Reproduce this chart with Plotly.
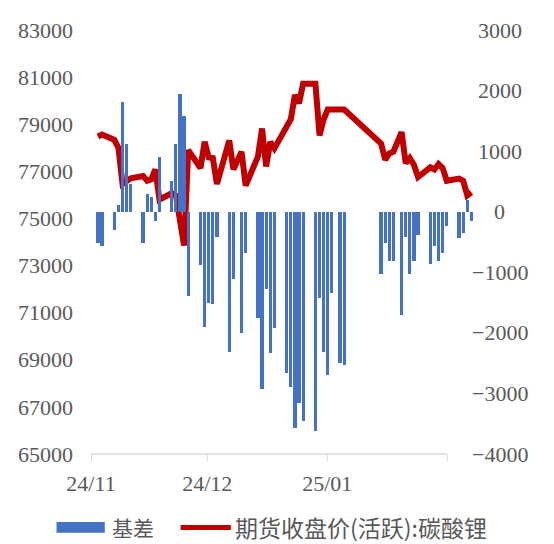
import plotly.graph_objects as go

# ---------------- data ----------------
dates = [
    "2024-11-28", "2024-11-29",
    "2024-12-02", "2024-12-03", "2024-12-04", "2024-12-05", "2024-12-06",
    "2024-12-09", "2024-12-10", "2024-12-11", "2024-12-12", "2024-12-13",
    "2024-12-16", "2024-12-17", "2024-12-18", "2024-12-19", "2024-12-20",
    "2024-12-23", "2024-12-24", "2024-12-25", "2024-12-26", "2024-12-27",
    "2024-12-30", "2024-12-31", "2025-01-02", "2025-01-03",
    "2025-01-06", "2025-01-07", "2025-01-08", "2025-01-09", "2025-01-10",
    "2025-01-13", "2025-01-14", "2025-01-15", "2025-01-16", "2025-01-17",
    "2025-01-20", "2025-01-21", "2025-01-22", "2025-01-23", "2025-01-24",
    "2025-01-26", "2025-01-27",
    "2025-02-05", "2025-02-06", "2025-02-07", "2025-02-08",
    "2025-02-10", "2025-02-11", "2025-02-12", "2025-02-13", "2025-02-14",
    "2025-02-17", "2025-02-18", "2025-02-19", "2025-02-20", "2025-02-21",
    "2025-02-24", "2025-02-25", "2025-02-26", "2025-02-27",
]

basis = [
    -510, -560,
    -300, 110, 1810, 1110, 450,
    -510, 300, 250, -160, 910,
    510, 1110, 1940, 1580, -1390,
    -880, -1910, -1510, -1520, -410,
    -2320, -1110, -2000, -680,
    -1760, -2920, -1280, -2340, -1920,
    -2660, -2900, -3570, -3160, -3450,
    -3620, -1430, -2310, -2690, -1350,
    -2500, -2530,
    -1030, -510, -810, -810,
    -1710, -410, -1020, -810, -390,
    -870, -570, -810, -680, -230,
    -430, -350, 200, -150,
]

price = [
    78480, 78560,
    78340, 78000, 76460, 76600, 76700,
    76800, 76600, 76660, 77080, 75800,
    76070, 75980, 74950, 73850, 77900,
    77140, 78260, 77590, 77560, 76460,
    78310, 77080, 77830, 76390,
    77630, 78820, 77210, 78250, 77970,
    78900, 79210, 80240, 79890, 80720,
    80720, 78520, 79210, 79620, 79620,
    79650, 79620,
    78180, 77490, 77760, 77830,
    78660, 77350, 77560, 77280, 76760,
    77170, 77080, 77310, 77140, 76600,
    76690, 76600, 75980, 76110,
]

tick_dates = ["2024-11-26 07:40", "2024-12-24 15:10", "2025-01-22 21:30", "2025-02-21 04:00"]
tick_text = ["24/11", "24/12", "25/01", ""]
x_range = ["2024-11-26 07:40", "2025-02-28 03:00"]

right_ticks = [-4000, -3000, -2000, -1000, 0, 1000, 2000, 3000]

bar_name = "基差"
line_name = "期货收盘价(活跃):碳酸锂"

# ---------------- style ----------------
OFF = 8                      # default page margin around the figure
W, H = 554 - OFF, 544 - OFF
L, R, T, B = 85 - OFF, 78, 18 - OFF, 90
PW, PH = W - L - R, H - T - B
BLUE = "#4472C4"
RED = "#C00000"
GRAY = "#595959"
NUMFONT = "Liberation Serif"
CJKFONT = "Noto Sans CJK SC"


def px(x):
    """page pixel x -> paper fraction"""
    return (x - OFF - L) / PW


def py(y):
    """page pixel y -> paper fraction"""
    return (H - B - (y - OFF)) / PH


def fmt(v):
    return ("\u2212" if v < 0 else "") + str(abs(v))


fig = go.Figure()
fig.add_trace(go.Bar(
    x=dates, y=basis, name=bar_name, yaxis="y2",
    marker=dict(color=BLUE, line=dict(width=0)),
    width=0.78 * 86400000, showlegend=False,
))
fig.add_trace(go.Scatter(
    x=dates, y=price, name=line_name, yaxis="y", mode="lines",
    line=dict(color=RED, width=6), showlegend=False,
))

annotations = [
    dict(xref="paper", yref="y2", x=px(500), y=v,
         xanchor="center", yanchor="middle", showarrow=False,
         text=fmt(v), font=dict(family=NUMFONT, size=22, color=GRAY))
    for v in right_ticks
]
annotations += [
    dict(xref="paper", yref="paper", x=px(104), y=py(529),
         xanchor="left", yanchor="middle", showarrow=False,
         text=bar_name, font=dict(family=CJKFONT, size=21, color=GRAY)),
    dict(xref="paper", yref="paper", x=px(229), y=py(529),
         xanchor="left", yanchor="middle", showarrow=False,
         text=line_name, font=dict(family=CJKFONT, size=23, color=GRAY)),
]

fig.update_layout(
    width=W, height=H,
    margin=dict(l=L, r=R, t=T, b=B),
    paper_bgcolor="white", plot_bgcolor="white",
    font=dict(family=NUMFONT, size=22, color=GRAY),
    xaxis=dict(
        type="date", range=x_range,
        tickmode="array", tickvals=tick_dates, ticktext=tick_text,
        showgrid=False, zeroline=False, showline=False,
        ticks="outside", ticklen=6, tickcolor="#D9D9D9", tickwidth=1,
        ticklabelstandoff=4, ticklabeloverflow="allow",
        tickfont=dict(family=NUMFONT, size=22, color=GRAY),
    ),
    yaxis=dict(
        range=[65000, 83000], dtick=2000, tick0=65000, tickformat="d",
        showgrid=False, zeroline=False, showline=False,
        ticks="", ticklabelstandoff=17, ticklabeloverflow="allow",
        tickfont=dict(family=NUMFONT, size=22, color=GRAY),
    ),
    yaxis2=dict(
        range=[-4000, 3000], tickvals=right_ticks,
        overlaying="y", side="right", showticklabels=False,
        showgrid=False, zeroline=False, showline=False, ticks="",
    ),
    bargap=0,
    shapes=[
        dict(type="line", xref="x", yref="paper",
             x0=tick_dates[0], x1=tick_dates[-1], y0=0, y1=0,
             line=dict(color="#D9D9D9", width=1.5)),
        dict(type="rect", xref="paper", yref="paper",
             x0=px(50), x1=px(99), y0=py(535), y1=py(524),
             fillcolor=BLUE, line=dict(width=0)),
        dict(type="line", xref="paper", yref="paper",
             x0=px(176), x1=px(227), y0=py(529.5), y1=py(529.5),
             line=dict(color=RED, width=5)),
    ],
    annotations=annotations,
)

fig.write_html("out.html")
